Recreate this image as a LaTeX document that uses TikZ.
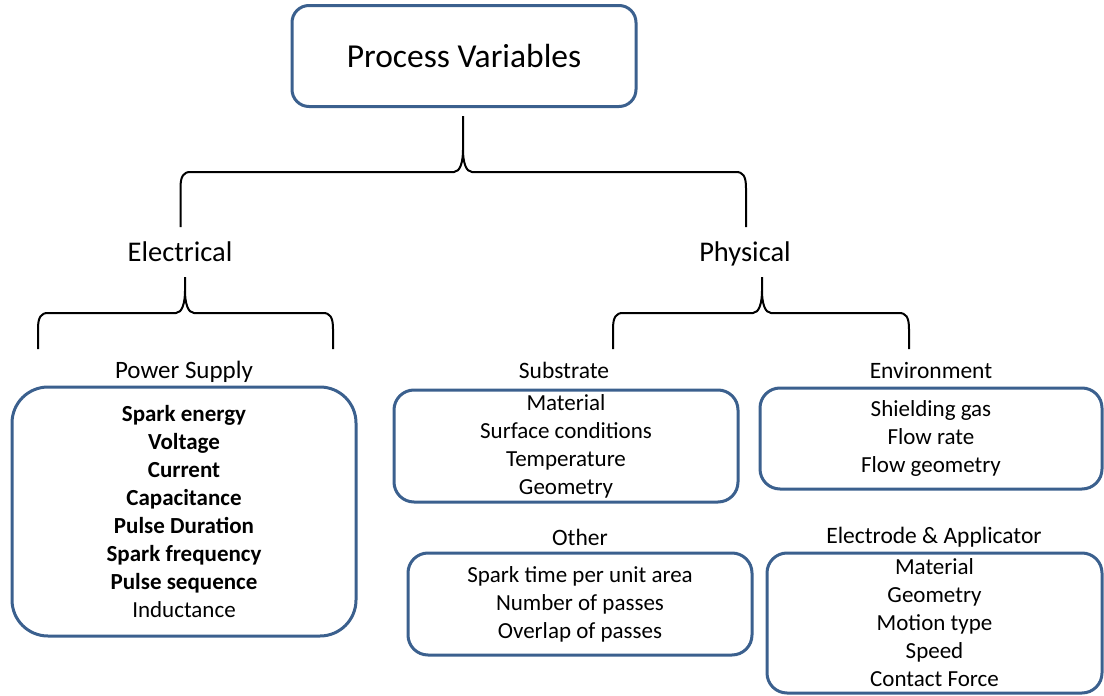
\documentclass[tikz,border=0pt]{standalone}
\usepackage{fontspec}
\setmainfont{Carlito}
\definecolor{boxblue}{RGB}{59,96,142}
\tikzset{
  vbox/.style={draw=boxblue, line width=3pt, align=center, inner sep=0pt,
    font=\fontsize{23}{28}\selectfont},
  lbl/.style={font=\fontsize{23.5}{28}\selectfont, inner sep=0pt},
  cat/.style={font=\fontsize{28.5}{34}\selectfont, inner sep=0pt},
  bracket/.style={line width=2pt, black},
}
% brace: left x, tip x, right x, tip y, horizontal y, bottom y
\newcommand\mybrace[6]{%
  \draw[bracket] (#1,#6) -- (#1,#5+16) .. controls (#1,#5+4) and (#1+3,#5) .. (#1+10,#5)
    -- (#2-9,#5) .. controls (#2-3,#5) and (#2,#5-10) .. (#2,#5-22) -- (#2,#4)
    -- (#2,#5-22) .. controls (#2,#5-10) and (#2+3,#5) .. (#2+9,#5)
    -- (#3-10,#5) .. controls (#3-3,#5) and (#3,#5+4) .. (#3,#5+16) -- (#3,#6);}
\begin{document}
\begin{tikzpicture}[x=1pt,y=-1pt]
\useasboundingbox (0,0) rectangle (1104,696);

\node[vbox, minimum width=344pt, minimum height=101pt, rounded corners=17pt,
  font=\fontsize{33.5}{40}\selectfont] (pv) at (464,56) {Process Variables};

\node[cat] (el) at (180,252) {Electrical};
\node[cat] (ph) at (745,254) {Physical};

\mybrace{180.5}{463}{746}{116}{172}{227}
\mybrace{38}{185}{333}{277}{313}{349}
\mybrace{613}{762}{909}{277}{313}{349}

\node[lbl, font=\fontsize{25}{30}\selectfont] (psl) at (184,372) {Power Supply};
\node[lbl] (sbl) at (564,370) {Substrate};
\node[lbl] (evl) at (931,370) {Environment};
\node[lbl] (otl) at (580,537) {Other};
\node[lbl] (eal) at (934,537) {Electrode \& Applicator};

\node[vbox, minimum width=344pt, minimum height=249pt, rounded corners=36pt] (ps) at (184,511.5)
  {\bfseries Spark energy\\ \bfseries Voltage\\ \bfseries Current\\ \bfseries Capacitance\\
   \bfseries Pulse Duration\\ \bfseries Spark frequency\\ \bfseries Pulse sequence\\ Inductance};

\node[vbox, minimum width=344pt, minimum height=112pt, rounded corners=20pt] (sb) at (566,446)
  {Material\\ Surface conditions\\ Temperature\\ Geometry};

\node[vbox, minimum width=342pt, minimum height=101pt, rounded corners=20pt] (ev) at (931,438.5)
  {Shielding gas\\ Flow rate\\ Flow geometry};

\node[vbox, minimum width=344pt, minimum height=102pt, rounded corners=20pt] (ot) at (580,604)
  {Spark time per unit area\\ Number of passes\\ Overlap of passes};

\node[vbox, minimum width=335pt, minimum height=140pt, rounded corners=20pt] (ea) at (934.5,623)
  {Material\\ Geometry\\ Motion type\\ Speed\\ Contact Force};
\end{tikzpicture}
\end{document}
